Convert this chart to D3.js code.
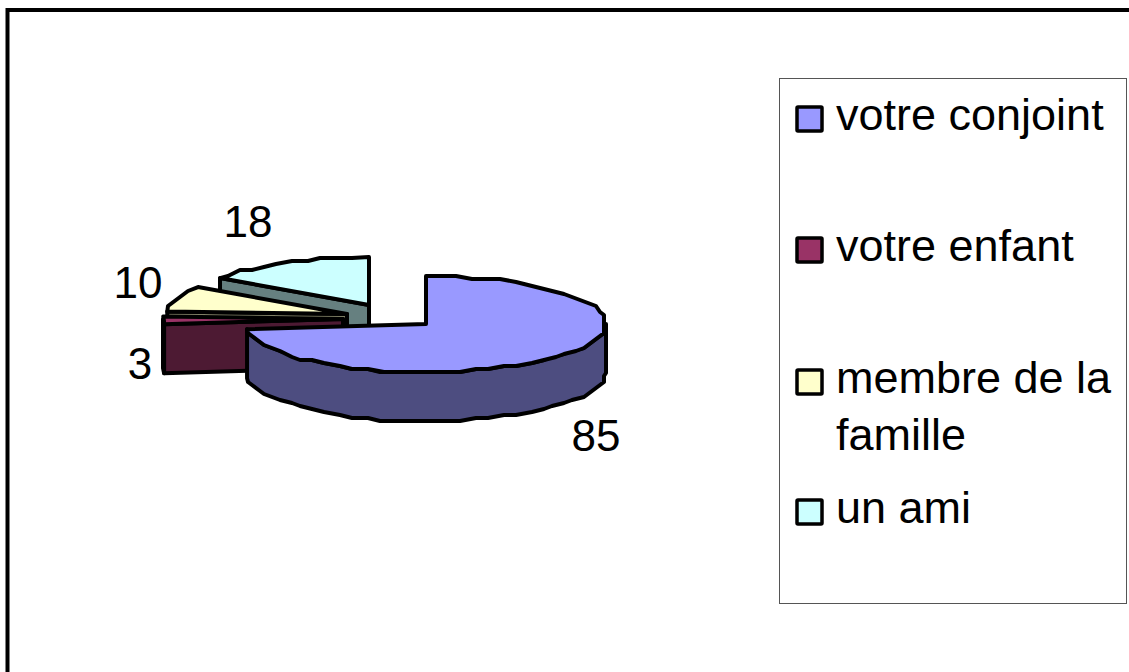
<!DOCTYPE html>
<html>
<head>
<meta charset="utf-8">
<script src="https://cdn.jsdelivr.net/npm/d3@7"></script>
<style>
  html, body { margin: 0; padding: 0; background: #fff; overflow: hidden; }
  text { font-family: "Liberation Sans", Arial, sans-serif; fill: #000; }
</style>
</head>
<body>
<div id="chart"></div>
<script>
// data
var categories = ["votre conjoint", "votre enfant", "membre de la famille", "un ami"];
var values = [85, 3, 10, 18];
var colors = ["#9999ff", "#993366", "#ffffcc", "#ccffff"];

// how far each slice is pulled out of the pie
var explodeX = [0, -83, -79, -57];
var explodeY = [0, -5, -10, -19];

var labelX = [596, 140, 138, 248];
var labelY = [451, 379, 298, 237];

var legendLines = [["votre conjoint"], ["votre enfant"], ["membre de la", "famille"], ["un ami"]];
var legendY = [130, 261, 393, 523];

var svg = d3.select("#chart")
    .append("svg")
    .attr("width", 1129)
    .attr("height", 672);

var cx = 426, cy = 324, rx = 180, ry = 48, depth = 49;

function shade(c) {
  var r = d3.rgb(c);
  return d3.rgb(r.r / 2, r.g / 2, r.b / 2).formatHex();
}

// the original has a coarse, stepped rim, so points get snapped to a grid
function rimPoint(a, ox, oy, dy) {
  var x = cx + ox + rx * Math.sin(a),
      y = cy + oy - ry * Math.cos(a);
  return [Math.round(x / 4) * 4, Math.round(y / 3) * 3 + dy];
}

function rim(a0, a1, ox, oy, dy) {
  var n = Math.max(1, Math.round((a1 - a0) / (Math.PI / 36))), pts = [];
  for (var i = 0; i <= n; i++) {
    var a = a0 + (a1 - a0) * i / n;
    if (i == 0 || i == n) {
      pts.push([cx + ox + rx * Math.sin(a), cy + oy - ry * Math.cos(a) + dy]);
    } else {
      pts.push(rimPoint(a, ox, oy, dy));
    }
  }
  return pts;
}

var line = d3.line();

// page frame, runs off the right and bottom of the window
svg.append("rect")
    .attr("x", 7.5)
    .attr("y", 10)
    .attr("width", 1200)
    .attr("height", 800)
    .attr("fill", "#fff")
    .attr("stroke", "#000")
    .attr("stroke-width", 4);

var pie = d3.pie().sort(null).startAngle(0).endAngle(2 * Math.PI);
var arcs = pie(values);

// back slices first so the front ones cover them
var order = [3, 2, 1, 0];

var g = svg.append("g")
    .attr("stroke", "#000")
    .attr("stroke-width", 4)
    .attr("stroke-linejoin", "round");

order.forEach(function(i) {
  var d = arcs[i], ox = explodeX[i], oy = explodeY[i];
  var ax = cx + ox, ay = cy + oy;

  // cut face on the start edge, only seen when it faces the viewer
  if (d.startAngle > Math.PI) {
    var s = rim(d.startAngle, d.startAngle, ox, oy, 0)[0];
    g.append("path")
        .attr("d", line([[ax, ay], s, [s[0], s[1] + depth], [ax, ay + depth]]) + "Z")
        .attr("fill", shade(colors[i]));
  }

  // outer wall, front half only
  var w0 = Math.max(d.startAngle, Math.PI / 2),
      w1 = Math.min(d.endAngle, 3 * Math.PI / 2);
  if (w1 > w0) {
    var wall = rim(w0, w1, ox, oy, 0).concat(rim(w0, w1, ox, oy, depth).reverse());
    g.append("path")
        .attr("d", line(wall) + "Z")
        .attr("fill", shade(colors[i]));
  }

  // top face
  var top = [[ax, ay]].concat(rim(d.startAngle, d.endAngle, ox, oy, 0));
  g.append("path")
      .attr("d", line(top) + "Z")
      .attr("fill", colors[i]);
});

svg.selectAll(".value-label")
    .data(values)
    .enter().append("text")
      .attr("class", "value-label")
      .attr("x", function(d, i) { return labelX[i]; })
      .attr("y", function(d, i) { return labelY[i]; })
      .attr("text-anchor", "middle")
      .attr("font-size", 44)
      .text(function(d) { return d; });

// legend
svg.append("rect")
    .attr("x", 779.5)
    .attr("y", 78.5)
    .attr("width", 347)
    .attr("height", 525)
    .attr("fill", "#fff")
    .attr("stroke", "#555")
    .attr("stroke-width", 1);

var legend = svg.selectAll(".legend-item")
    .data(categories)
    .enter().append("g")
      .attr("class", "legend-item")
      .attr("transform", function(d, i) { return "translate(0," + legendY[i] + ")"; });

legend.append("rect")
    .attr("x", 797)
    .attr("y", -23)
    .attr("width", 25)
    .attr("height", 24)
    .attr("rx", 1)
    .attr("fill", function(d, i) { return colors[i]; })
    .attr("stroke", "#000")
    .attr("stroke-width", 3.5);

legend.append("text")
    .attr("x", 836)
    .attr("font-size", 45)
    .selectAll("tspan")
    .data(function(d, i) { return legendLines[i]; })
    .enter().append("tspan")
      .attr("x", 836)
      .attr("dy", function(d, i) { return i ? 57 : 0; })
      .text(function(d) { return d; });
</script>
</body>
</html>
